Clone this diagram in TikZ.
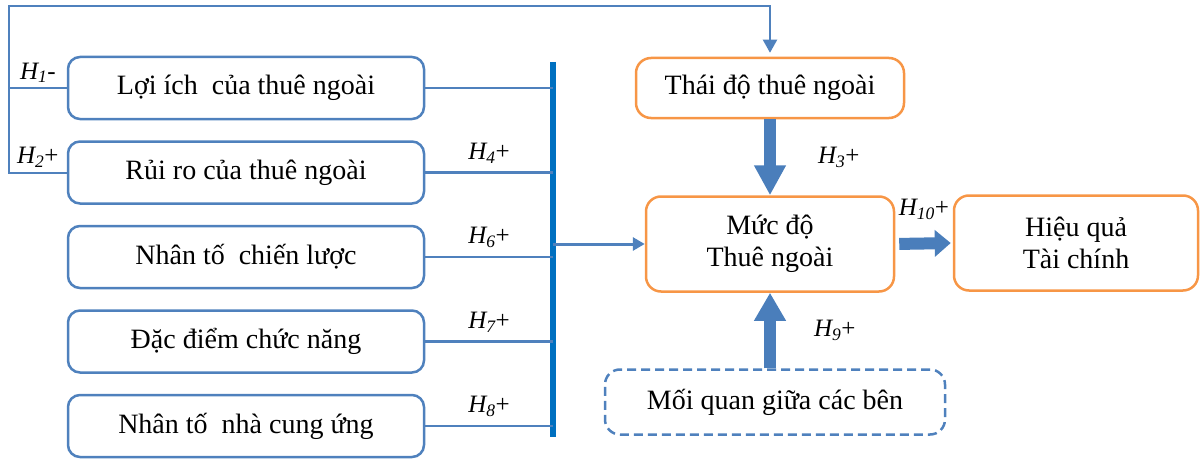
\documentclass[tikz,border=0pt]{standalone}
\usepackage{fontspec}
\setmainfont{Liberation Serif}
\usetikzlibrary{arrows.meta,positioning}

\definecolor{boxblue}{RGB}{79,129,189}
\definecolor{barblue}{RGB}{0,112,192}
\definecolor{boxorange}{RGB}{247,150,70}
\definecolor{fatblue}{RGB}{74,126,187}

\newcommand{\hypo}[2]{\textit{H\textsubscript{#1}}#2}

\begin{document}
\begin{tikzpicture}[x=1pt, y=-1pt, semithick,
    factor/.style={draw=boxblue, line width=2.5pt, rounded corners=12pt,
                   minimum width=356pt, minimum height=62pt,
                   font=\fontsize{28}{32}\selectfont},
    outcome/.style={draw=boxorange, line width=2.5pt, rounded corners=15pt,
                    align=center, font=\fontsize{28}{32}\selectfont},
    link/.style={draw=boxblue, line width=2.5pt},
    fat/.style={draw=fatblue, line width=12pt},
    hlab/.style={font=\fontsize{25}{27}\selectfont, inner sep=2pt}]
    \useasboundingbox (0,0) rectangle (1203,460);

    % left factors
    \node[factor]   (loi)                       at (246,88)    {Lợi ích~ của thuê ngoài};
    \node[factor]   (rui)   [below=20pt of loi]                {Rủi ro của thuê ngoài};
    \node[factor]   (chien) [below=20pt of rui]                {Nhân tố~ chiến lược};
    \node[factor]   (dac)   [below=20pt of chien]              {Đặc điểm chức năng};
    \node[factor]   (cung)  [below=20pt of dac]                {Nhân tố~ nhà cung ứng};

    % right side
    \node[outcome, minimum width=268pt, minimum height=60pt] (thai) at (770,88)   {Thái độ thuê ngoài};
    \node[outcome, minimum width=248pt, minimum height=95pt] (muc)  at (770,244)  {Mức độ\\Thuê ngoài};
    \node[outcome, minimum width=244pt, minimum height=95pt] (hieu) at (1076,243) {Hiệu quả\\Tài chính};
    \node[outcome, draw=boxblue, dash pattern=on 9pt off 5pt, minimum width=340pt, minimum height=65pt] (moi) at (775,402) {Mối quan giữa các bên};

    % collecting bar
    \coordinate (bartop) at (553,62);
    \coordinate (barbot) at (553,437);
    \draw[line width=6pt, barblue] (bartop) -- (barbot);

    \draw[link] (loi.east) -- (loi.east -| bartop);
    \draw[link] (rui.east) -- node[hlab, above=6pt] {\hypo{4}{+}} (rui.east -| bartop);
    \draw[link] (chien.east) -- node[hlab, above=6pt] {\hypo{6}{+}} (chien.east -| bartop);
    \draw[link] (dac.east) -- node[hlab, above=6pt] {\hypo{7}{+}} (dac.east -| bartop);
    \draw[link] (cung.east) -- node[hlab, above=6pt] {\hypo{8}{+}} (cung.east -| bartop);

    \draw[link, line width=3pt, -{Triangle[width=13pt,length=12pt]}] (bartop |- muc.west) -- (muc.west);

    % loop back to attitude
    \coordinate (corner) at (9,6);
    \draw[link, line width=2pt] (loi.west) -- node[hlab, above=2pt] {\hypo{1}{-}} (loi.west -| corner);
    \draw[link, line width=2pt, -{Triangle[width=14pt,length=13pt]}, shorten >=4pt]
        (rui.west) -- node[hlab, above=2pt] {\hypo{2}{+}} (rui.west -| corner) -- (corner) -| (thai.north);

    % thick arrows
    \draw[fat, -{Triangle[width=30pt,length=30pt]}] (thai.south) -- node[hlab, right=40pt] {\hypo{3}{+}} (muc.north);
    \draw[fat, -{Triangle[width=30pt,length=28pt]}] (moi.north -| muc.south) -- node[hlab, right=36pt] {\hypo{9}{+}} (muc.south);
    \draw[fat, -{Triangle[width=26pt,length=16pt]}, shorten <=4pt, shorten >=2pt] (muc.east) -- node[hlab, above=16pt] {\hypo{10}{+}} (hieu.west);
\end{tikzpicture}
\end{document}
